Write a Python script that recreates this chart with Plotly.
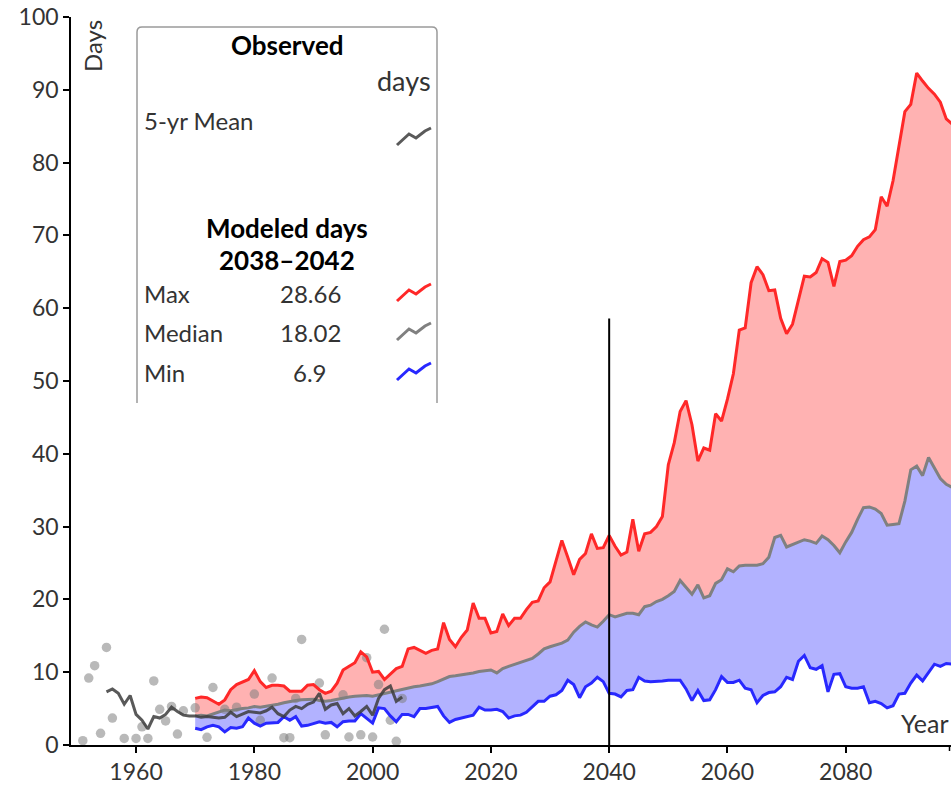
import plotly.graph_objects as go

# ---------------- data ----------------
model_years = list(range(1970, 2099))

model_max = [
    6.4, 6.6, 6.5, 6.1, 5.6, 6.2, 7.6, 8.3, 8.6, 9.0,
    10.2, 8.7, 7.9, 8.2, 8.2, 8.1, 7.4, 7.4, 7.4, 8.2,
    8.3, 7.6, 7.1, 7.4, 8.5, 10.3, 10.8, 11.3, 12.8, 12.1,
    10.0, 10.1, 9.0, 9.8, 10.5, 10.8, 13.2, 13.4, 13.0, 12.6,
    13.0, 13.2, 16.8, 14.5, 13.5, 14.8, 15.8, 19.5, 17.4, 17.4,
    15.4, 15.6, 18.0, 16.4, 17.4, 17.4, 18.6, 19.6, 19.8, 21.6,
    22.4, 25.3, 28.1, 25.8, 23.4, 25.5, 26.3, 29.0, 27.0, 27.1,
    28.8, 27.3, 26.1, 26.5, 31.0, 26.6, 29.0, 29.2, 30.0, 31.4,
    38.5, 41.5, 45.8, 47.3, 44.0, 39.0, 40.8, 40.5, 45.5, 44.5,
    47.5, 51.0, 57.0, 57.3, 63.5, 65.7, 64.6, 62.4, 62.5, 58.6,
    56.5, 57.8, 61.0, 64.4, 64.3, 64.9, 66.8, 66.3, 63.0, 66.4,
    66.6, 67.2, 68.5, 69.4, 69.8, 70.8, 75.3, 74.0, 77.5, 82.5,
    87.0, 88.0, 92.3, 91.2, 90.2, 89.4, 88.3, 86.0, 85.3,
]

model_median = [
    4.0, 4.1, 4.0, 4.3, 4.5, 4.8, 4.7, 4.9, 5.0, 5.1,
    5.3, 5.2, 5.3, 5.5, 5.6, 5.8, 6.0, 6.1, 6.2, 6.3,
    6.3, 6.1, 6.0, 6.1, 6.3, 6.5, 6.6, 6.7, 6.8, 6.8,
    6.7, 6.9, 7.1, 7.3, 7.5, 7.7, 7.9, 8.0, 8.1, 8.2,
    8.4, 8.7, 9.1, 9.4, 9.5, 9.6, 9.8, 9.9, 10.1, 10.2,
    10.3, 9.9, 10.5, 10.8, 11.1, 11.3, 11.6, 11.9, 12.5, 13.2,
    13.5, 13.7, 14.0, 14.4, 15.5, 16.3, 16.9, 16.5, 16.2, 17.0,
    17.9, 17.6, 17.8, 18.1, 18.1, 17.9, 19.0, 19.2, 19.7, 20.0,
    20.5, 21.1, 22.6, 21.6, 20.7, 22.0, 20.2, 20.5, 22.2, 22.7,
    24.2, 23.8, 24.6, 24.7, 24.7, 24.7, 24.9, 25.8, 28.5, 28.8,
    27.2, 27.5, 27.8, 28.2, 28.0, 27.7, 28.7, 28.2, 27.4, 26.4,
    27.9, 29.2, 31.0, 32.6, 32.7, 32.4, 31.8, 30.2, 30.3, 30.4,
    33.5, 37.8, 38.3, 37.0, 39.5, 38.0, 36.6, 35.8, 35.4,
]

model_min = [
    2.3, 2.1, 2.5, 2.7, 2.5, 1.8, 2.4, 2.3, 2.5, 3.7,
    3.0, 2.6, 3.0, 3.0, 3.1, 3.9, 3.4, 3.9, 2.6, 2.7,
    3.0, 3.2, 3.0, 3.1, 2.5, 3.2, 3.3, 3.3, 4.3, 3.6,
    3.0, 5.1, 5.0, 4.0, 3.2, 4.2, 4.2, 3.9, 5.0, 5.0,
    5.1, 5.3, 4.0, 3.1, 3.5, 3.7, 3.9, 4.1, 5.2, 4.8,
    4.8, 4.9, 4.6, 3.7, 4.0, 4.1, 4.5, 5.3, 6.0, 6.0,
    6.7, 6.9, 7.5, 8.9, 8.3, 6.5, 8.0, 8.5, 9.3, 8.7,
    7.1, 7.0, 6.6, 7.5, 7.6, 9.3, 8.8, 8.7, 8.7, 8.8,
    8.9, 8.9, 8.9, 7.7, 6.1, 7.5, 6.1, 6.2, 7.6, 9.4,
    8.6, 8.6, 8.9, 7.8, 7.6, 5.8, 6.8, 7.2, 7.3, 8.0,
    9.3, 9.0, 11.5, 12.3, 10.6, 10.4, 10.9, 7.3, 9.7, 9.8,
    8.0, 7.8, 7.8, 8.0, 5.8, 6.0, 5.7, 5.1, 5.4, 7.0,
    7.1, 8.5, 9.6, 8.8, 9.9, 11.1, 10.8, 11.2, 11.1,
]

mean_years = list(range(1955, 2006))
obs_5yr_mean = [
    7.3, 7.7, 7.1, 5.6, 6.8, 4.2, 3.4, 2.2, 3.9, 3.7,
    4.2, 5.2, 4.6, 4.1, 4.0, 4.0, 3.8, 3.9, 3.8, 3.7,
    3.8, 4.5, 3.9, 4.3, 4.6, 4.5, 4.4, 4.7, 5.2, 4.3,
    3.9, 4.8, 5.3, 5.0, 5.6, 5.9, 7.1, 4.9, 5.5, 5.7,
    4.3, 5.0, 4.0, 4.6, 5.3, 4.1, 6.4, 7.6, 8.1, 6.0, 6.6,
]

obs_years = [1951, 1952, 1953, 1954, 1955, 1956, 1958, 1960, 1961, 1962,
             1963, 1964, 1965, 1966, 1967, 1968, 1970, 1972, 1973, 1975,
             1977, 1980, 1981, 1983, 1985, 1986, 1987, 1988, 1991, 1992,
             1995, 1996, 1998, 1999, 2000, 2001, 2002, 2003, 2004, 2005]
obs_values = [0.6, 9.2, 10.9, 1.6, 13.4, 3.7, 0.9, 0.9, 2.5, 0.9,
              8.8, 4.9, 3.3, 5.3, 1.5, 4.7, 5.1, 1.05, 7.9, 4.9,
              5.2, 7.0, 3.4, 9.2, 1.0, 1.0, 6.4, 14.5, 8.5, 1.4,
              6.9, 1.1, 1.4, 12.0, 1.1, 8.3, 15.9, 3.4, 0.5, 6.4]

x_ticks = [1960, 1980, 2000, 2020, 2040, 2060, 2080]
y_ticks = [0, 10, 20, 30, 40, 50, 60, 70, 80, 90, 100]

marker_year = 2040
marker_top = 58.6

legend_rows = ["Max", "Median", "Min"]
legend_values = ["28.66", "18.02", "6.9"]

# ---------------- styling ----------------
RED = "rgb(255,40,40)"
BLUE = "rgb(40,40,255)"
GRAY = "rgb(128,128,128)"
DARK = "rgba(60,60,60,0.85)"
RED_FILL = "rgb(255,178,178)"
BLUE_FILL = "rgb(178,178,255)"
FONT = "Lato"
TXT = "#333"

W, H = 951, 794
L, R, T, B = 71, 0, 17, 49
PW, PH = W - L - R, H - T - B


def px(x):
    return (x - L) / PW


def py(y):
    return (H - B - y) / PH


fig = go.Figure()

# fills
fig.add_trace(go.Scatter(x=model_years, y=model_min, mode="lines",
                         line=dict(width=0), hoverinfo="skip", showlegend=False))
fig.add_trace(go.Scatter(x=model_years, y=model_median, mode="lines",
                         line=dict(width=0), fill="tonexty", fillcolor=BLUE_FILL,
                         hoverinfo="skip", showlegend=False))
fig.add_trace(go.Scatter(x=model_years, y=model_max, mode="lines",
                         line=dict(width=0), fill="tonexty", fillcolor=RED_FILL,
                         hoverinfo="skip", showlegend=False))

# observed points
fig.add_trace(go.Scatter(x=obs_years, y=obs_values, mode="markers",
                         marker=dict(size=9.5, color="rgba(128,128,128,0.55)"),
                         showlegend=False))

# lines
fig.add_trace(go.Scatter(x=model_years, y=model_max, mode="lines",
                         line=dict(color=RED, width=3), showlegend=False))
fig.add_trace(go.Scatter(x=model_years, y=model_min, mode="lines",
                         line=dict(color=BLUE, width=3), showlegend=False))
fig.add_trace(go.Scatter(x=model_years, y=model_median, mode="lines",
                         line=dict(color=GRAY, width=3), showlegend=False))
fig.add_trace(go.Scatter(x=mean_years, y=obs_5yr_mean, mode="lines",
                         line=dict(color=DARK, width=3), showlegend=False))

shapes = []
# vertical marker line
shapes.append(dict(type="line", xref="x", yref="y", x0=marker_year, x1=marker_year,
                   y0=0, y1=marker_top, line=dict(color="black", width=2)))
# right outer tick of x axis
shapes.append(dict(type="line", xref="paper", yref="paper", x0=px(949.5), x1=px(949.5),
                   y0=0, y1=py(751), line=dict(color="black", width=1.5)))

# legend box (open at the bottom, rounded top corners)
bl, br, bt, bb = px(137), px(437), py(27), py(403)
rx, ry = 5 / PW, 5 / PH
box = (f"M {bl},{bb} L {bl},{bt - ry} Q {bl},{bt} {bl + rx},{bt} "
       f"L {br - rx},{bt} Q {br},{bt} {br},{bt - ry} L {br},{bb}")
shapes.append(dict(type="path", xref="paper", yref="paper", path=box,
                   line=dict(color="#9a9a9a", width=1.5)))


def icon(y0, color):
    pts = [(397, y0), (409, y0 - 11), (416, y0 - 7), (425, y0 - 14), (431, y0 - 17)]
    p = "M " + " L ".join(f"{px(a)},{py(b)}" for a, b in pts)
    return dict(type="path", xref="paper", yref="paper", path=p,
                line=dict(color=color, width=3))


shapes.append(icon(145, "rgb(90,90,90)"))
shapes.append(icon(301, RED))
shapes.append(icon(340, GRAY))
shapes.append(icon(380, BLUE))

ann = []


def text(t, x, y, size=21, anchor="left", bold=False, color=TXT, angle=0):
    ann.append(dict(text=f"<b>{t}</b>" if bold else t, xref="paper", yref="paper",
                    x=px(x), y=py(y), xanchor=anchor, yanchor="middle",
                    showarrow=False, textangle=angle,
                    font=dict(family=FONT, size=size, color=color)))


text("Observed", 287, 45, size=26, anchor="center", bold=True, color="black")
text("days", 433, 80, size=27, anchor="right")
text("5-yr Mean", 142, 120, size=24)
text("Modeled days", 287, 228, size=26, anchor="center", bold=True, color="black")
text("2038–2042", 287, 260, size=26, anchor="center", bold=True, color="black")
for lbl, val, yy in zip(legend_rows, legend_values, [293, 332, 372]):
    text(lbl, 142, yy, size=24)
    text(val, 310, yy, size=24, anchor="center")

text("Days", 93, 46, size=24, anchor="center", angle=-90)
text("Year", 951, 723, size=25, anchor="right")

fig.update_layout(
    width=W, height=H,
    margin=dict(l=L, r=R, t=T, b=B, pad=0),
    paper_bgcolor="white", plot_bgcolor="white",
    showlegend=False,
    shapes=shapes, annotations=ann,
    xaxis=dict(range=[1949.0, 2097.8], tickvals=x_ticks,
               ticktext=[str(v) for v in x_ticks],
               showgrid=False, zeroline=False, showline=True,
               linecolor="black", linewidth=1.5, ticks="outside",
               ticklen=6, tickwidth=1.5, tickcolor="black",
               tickfont=dict(family=FONT, size=23, color=TXT)),
    yaxis=dict(range=[0, 100], tickvals=y_ticks,
               showgrid=False, zeroline=False, showline=True,
               linecolor="black", linewidth=1.5, ticks="outside",
               ticklen=6, tickwidth=1.5, tickcolor="black",
               tickfont=dict(family=FONT, size=23, color=TXT)),
)

fig.write_html(
    "out.html",
    config={"displayModeBar": False},
    post_script="document.body.style.margin='0';"
                "document.documentElement.style.overflow='hidden';",
)
